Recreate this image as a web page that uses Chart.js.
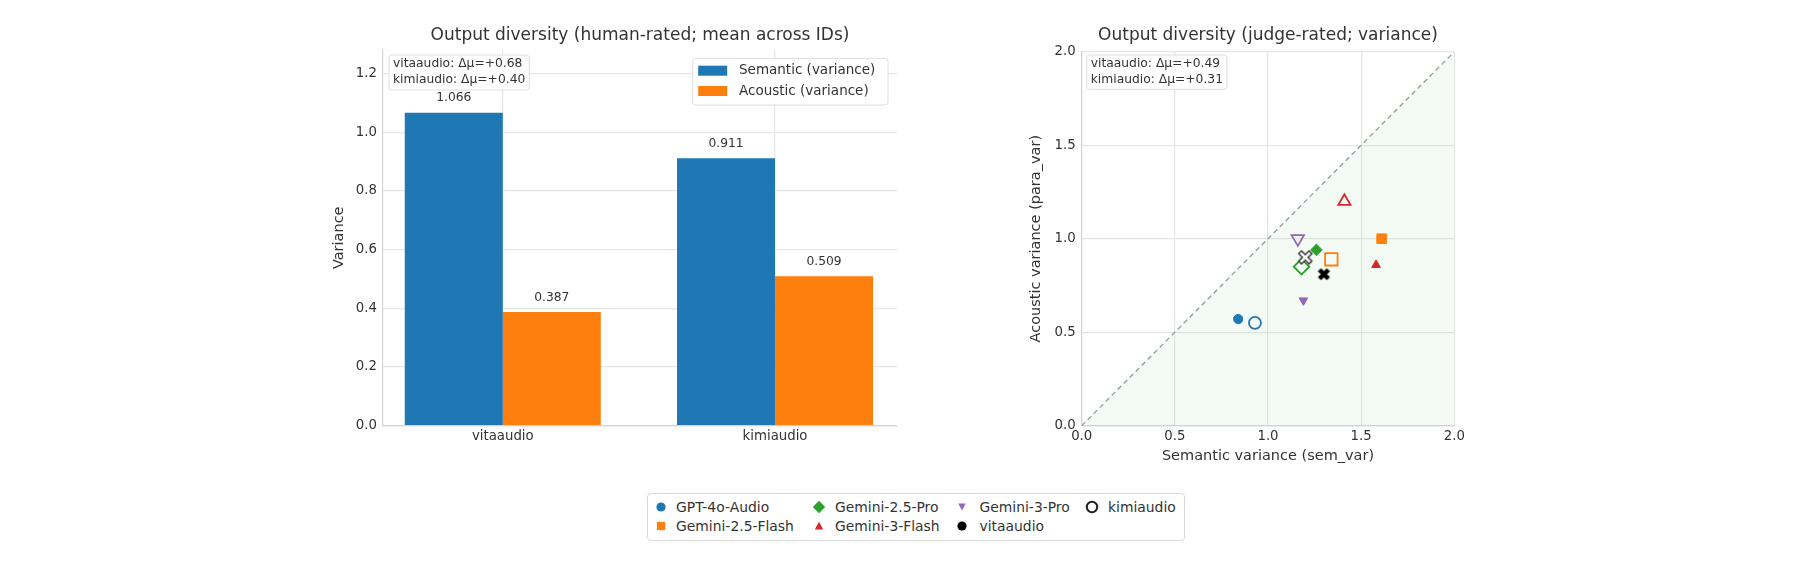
<!DOCTYPE html>
<html>
<head>
<meta charset="utf-8">
<script src="https://cdn.jsdelivr.net/npm/chart.js@4.4.1/dist/chart.umd.min.js"></script>
<style>
html,body{margin:0;padding:0;background:#fff;width:1800px;height:570px;overflow:hidden;font-family:"DejaVu Sans",sans-serif;}
canvas{position:absolute;top:0;}
#c1{left:280px;}
#c2{left:940px;}
#leg{position:absolute;left:647px;top:493px;width:538px;height:48px;border:1px solid #d9d9d9;border-radius:4px;box-sizing:border-box;background:#fff;}
.lt{position:absolute;font-size:13.9px;color:#333;line-height:16px;white-space:nowrap;font-family:"DejaVu Sans",sans-serif;}
.lm{position:absolute;width:16px;height:16px;}
</style>
</head>
<body>
<canvas id="c1" width="640" height="470"></canvas>
<canvas id="c2" width="540" height="470"></canvas>
<div id="leg"></div>
<script>
// ---------- data: left bar chart ----------
const barCategories = ['vitaaudio', 'kimiaudio'];
const semanticVar = [1.066, 0.911];
const acousticVar = [0.387, 0.509];
const barSeriesLabels = ['Semantic (variance)', 'Acoustic (variance)'];
const barYTicks = [0.0, 0.2, 0.4, 0.6, 0.8, 1.0, 1.2];
const barNotes = ['vitaaudio: Δμ=+0.68', 'kimiaudio: Δμ=+0.40'];

// ---------- data: right scatter chart ----------
const models = ['GPT-4o-Audio', 'Gemini-2.5-Flash', 'Gemini-2.5-Pro', 'Gemini-3-Flash', 'Gemini-3-Pro'];
const vitaSem  = [0.84, 1.61, 1.26, 1.58, 1.19];
const vitaPara = [0.57, 1.00, 0.94, 0.86, 0.67];
const kimiSem  = [0.93, 1.34, 1.18, 1.41, 1.16];
const kimiPara = [0.55, 0.89, 0.85, 1.20, 1.00];
const systems = ['vitaaudio', 'kimiaudio'];
const meanSem  = [1.30, 1.20];
const meanPara = [0.81, 0.90];
const scatterTicks = [0.0, 0.5, 1.0, 1.5, 2.0];
const judgeNotes = ['vitaaudio: Δμ=+0.49', 'kimiaudio: Δμ=+0.31'];

// ---------- styles ----------
const FONT = "'DejaVu Sans', sans-serif";
Chart.defaults.font.family = FONT;
Chart.defaults.color = '#333';
const modelColors = ['#1f77b4', '#ff7f0e', '#2ca02c', '#d62728', '#9467bd'];
const modelShapes = ['circle', 'rect', 'rectRot', 'triangle', 'triangle'];
const modelRot = [0, 0, 0, 0, 180];
const filledR = [4.6, 6.8, 5.8, 5.0, 5.0];
const openR = [6.0, 8.8, 7.8, 7.0, 7.2];
const GRID = '#e6e6e6';
const BORDER = '#d4d4d4';

function roundRect(ctx, x, y, w, h, r) {
  ctx.beginPath();
  ctx.moveTo(x + r, y);
  ctx.lineTo(x + w - r, y);
  ctx.arcTo(x + w, y, x + w, y + r, r);
  ctx.lineTo(x + w, y + h - r);
  ctx.arcTo(x + w, y + h, x + w - r, y + h, r);
  ctx.lineTo(x + r, y + h);
  ctx.arcTo(x, y + h, x, y + h - r, r);
  ctx.lineTo(x, y + r);
  ctx.arcTo(x, y, x + r, y, r);
  ctx.closePath();
}

function noteBox(ctx, lines, left, top, h) {
  ctx.save();
  ctx.font = '12.3px ' + FONT;
  const w = Math.max(...lines.map(l => ctx.measureText(l).width)) + 8;
  roundRect(ctx, left, top, w, h, 3);
  ctx.fillStyle = 'rgba(255,255,255,0.85)';
  ctx.fill();
  ctx.strokeStyle = '#dedede';
  ctx.lineWidth = 1;
  ctx.stroke();
  ctx.fillStyle = '#333';
  ctx.textAlign = 'left';
  ctx.textBaseline = 'middle';
  lines.forEach((l, i) => ctx.fillText(l, left + 4, top + 9 + i * 15.5));
  ctx.restore();
}

const barValueLabels = {
  id: 'barValueLabels',
  afterDatasetsDraw(chart) {
    const ctx = chart.ctx;
    ctx.save();
    ctx.font = '12.3px ' + FONT;
    ctx.fillStyle = '#333';
    ctx.textAlign = 'center';
    ctx.textBaseline = 'middle';
    chart.data.datasets.forEach((ds, i) => {
      chart.getDatasetMeta(i).data.forEach((el, j) => {
        ctx.fillText(ds.data[j].y.toFixed(3), el.x, el.y - 14.5);
      });
    });
    ctx.restore();
  }
};

const leftExtras = {
  id: 'leftExtras',
  afterDraw(chart) {
    const ctx = chart.ctx;
    const a = chart.chartArea;
    noteBox(ctx, barNotes, a.left + 6, 55, 35);
    // legend
    const bw = 195.3, bh = 46.7;
    const bx = a.right - 9 - bw, by = 58.3;
    ctx.save();
    roundRect(ctx, bx, by, bw, bh, 3);
    ctx.fillStyle = 'rgba(255,255,255,0.85)';
    ctx.fill();
    ctx.strokeStyle = '#dedede';
    ctx.lineWidth = 1;
    ctx.stroke();
    ctx.font = '13.5px ' + FONT;
    ctx.textAlign = 'left';
    ctx.textBaseline = 'middle';
    chart.data.datasets.forEach((ds, i) => {
      const cy = by + 12.4 + i * 20.3;
      ctx.fillStyle = ds.backgroundColor;
      ctx.fillRect(bx + 5.5, cy - 5, 29, 10);
      ctx.fillStyle = '#333';
      ctx.fillText(ds.label, bx + 46.3, cy);
    });
    ctx.restore();
  }
};

const rightExtras = {
  id: 'rightExtras',
  afterDraw(chart) {
    noteBox(chart.ctx, judgeNotes, chart.chartArea.left + 5, 55, 34.3);
  }
};

// ---------- left chart ----------
new Chart(document.getElementById('c1'), {
  type: 'bar',
  data: {
    datasets: [
      { label: barSeriesLabels[0], data: barCategories.map((c, i) => ({ x: i, y: semanticVar[i] })), backgroundColor: '#1f77b4', borderWidth: 0 },
      { label: barSeriesLabels[1], data: barCategories.map((c, i) => ({ x: i, y: acousticVar[i] })), backgroundColor: '#ff7f0e', borderWidth: 0 }
    ]
  },
  options: {
    responsive: false,
    animation: false,
    devicePixelRatio: 1,
    layout: { padding: { left: 0, right: 23, top: 0, bottom: 0 } },
    datasets: { bar: { categoryPercentage: 0.72, barPercentage: 1.0 } },
    plugins: {
      legend: { display: false },
      tooltip: { enabled: false },
      title: {
        display: true, fullSize: false,
        text: 'Output diversity (human-rated; mean across IDs)',
        font: { size: 17, weight: 'normal', family: FONT }, color: '#333',
        padding: { top: 25.8, bottom: 3.8 }
      }
    },
    scales: {
      x: {
        type: 'linear', min: -0.44, max: 1.448, offset: false,
        grid: { offset: false, color: GRID, lineWidth: 1.2, drawTicks: false },
        border: { color: BORDER, width: 1.2 },
        ticks: { padding: 3, font: { size: 13.3 }, color: '#333', callback: v => barCategories[v] ?? '' },
        afterBuildTicks: s => { s.ticks = barCategories.map((c, i) => ({ value: i })); },
        afterFit: s => { s.height = 44.4; }
      },
      y: {
        min: 0, max: 1.28,
        grid: { color: GRID, lineWidth: 1.2, drawTicks: false },
        border: { color: BORDER, width: 1.2 },
        ticks: { padding: 6, font: { size: 13.3 }, color: '#333', callback: v => v.toFixed(1) },
        afterBuildTicks: s => { s.ticks = barYTicks.map(v => ({ value: v })); },
        title: { display: true, text: 'Variance', font: { size: 14.5 }, color: '#333', padding: { top: 50.3, bottom: 0 } },
        afterFit: s => { s.width = 103; }
      }
    }
  },
  plugins: [barValueLabels, leftExtras]
});

// ---------- X markers ----------
function makeX(half, arm, fill, stroke, lw) {
  const size = Math.ceil((half + lw) * 2) + 2;
  const c = document.createElement('canvas');
  c.width = size; c.height = size;
  const ctx = c.getContext('2d');
  ctx.translate(size / 2, size / 2);
  ctx.rotate(Math.PI / 4);
  const h = half * Math.SQRT2 - arm, a = arm;
  const pts = [[a,h],[a,a],[h,a],[h,-a],[a,-a],[a,-h],[-a,-h],[-a,-a],[-h,-a],[-h,a],[-a,a],[-a,h]];
  ctx.beginPath();
  pts.forEach((p, i) => i ? ctx.lineTo(p[0], p[1]) : ctx.moveTo(p[0], p[1]));
  ctx.closePath();
  ctx.fillStyle = fill; ctx.fill();
  if (stroke) { ctx.strokeStyle = stroke; ctx.lineWidth = lw; ctx.stroke(); }
  return c;
}
const xFilled = makeX(5.6, 1.9, '#000', '#000', 0.8);
const xOpen = makeX(6.6, 2.0, '#fff', '#333', 1.4);

// ---------- right chart ----------
const scatterSets = [];
scatterSets.push({ label: systems[0] + ' mean', data: [{ x: meanSem[0], y: meanPara[0] }], pointStyle: xFilled, pointRadius: 6 });
scatterSets.push({ label: systems[1] + ' mean', data: [{ x: meanSem[1], y: meanPara[1] }], pointStyle: xOpen, pointRadius: 7 });
models.forEach((m, i) => {
  scatterSets.push({
    label: m + ' / vitaaudio', data: [{ x: vitaSem[i], y: vitaPara[i] }],
    pointStyle: modelShapes[i], rotation: modelRot[i], pointRadius: filledR[i],
    backgroundColor: modelColors[i], borderColor: modelColors[i], borderWidth: 1
  });
});
models.forEach((m, i) => {
  scatterSets.push({
    label: m + ' / kimiaudio', data: [{ x: kimiSem[i], y: kimiPara[i] }],
    pointStyle: modelShapes[i], rotation: modelRot[i], pointRadius: openR[i],
    backgroundColor: 'rgba(0,0,0,0)', borderColor: modelColors[i], borderWidth: 1.8
  });
});
scatterSets.push({
  type: 'line', label: 'y = x',
  data: [{ x: scatterTicks[0], y: scatterTicks[0] }, { x: scatterTicks[scatterTicks.length - 1], y: scatterTicks[scatterTicks.length - 1] }],
  borderColor: '#999', borderWidth: 1.3, borderDash: [5, 3.5], pointRadius: 0,
  fill: 'origin', backgroundColor: 'rgba(44,160,44,0.05)', tension: 0
});

new Chart(document.getElementById('c2'), {
  type: 'scatter',
  data: { datasets: scatterSets },
  options: {
    responsive: false,
    animation: false,
    devicePixelRatio: 1,
    layout: { padding: { left: 0, right: 25.7, top: 0, bottom: 0 } },
    plugins: {
      legend: { display: false },
      tooltip: { enabled: false },
      title: {
        display: true, fullSize: false,
        text: 'Output diversity (judge-rated; variance)',
        font: { size: 17, weight: 'normal', family: FONT }, color: '#333',
        padding: { top: 25.8, bottom: 5.5 }
      }
    },
    scales: {
      x: {
        type: 'linear', min: 0, max: 2,
        grid: { color: GRID, lineWidth: 1.2, drawTicks: false },
        border: { color: BORDER, width: 1.2 },
        ticks: { padding: 3, font: { size: 13.3 }, color: '#333', callback: v => v.toFixed(1) },
        afterBuildTicks: s => { s.ticks = scatterTicks.map(v => ({ value: v })); },
        title: { display: true, text: 'Semantic variance (sem_var)', font: { size: 14.5 }, color: '#333', padding: { top: 0, bottom: 4.6 } },
        afterFit: s => { s.height = 44.3; }
      },
      y: {
        type: 'linear', min: 0, max: 2,
        grid: { color: GRID, lineWidth: 1.2, drawTicks: false },
        border: { color: BORDER, width: 1.2 },
        ticks: { padding: 6, font: { size: 13.3 }, color: '#333', callback: v => v.toFixed(1) },
        afterBuildTicks: s => { s.ticks = scatterTicks.map(v => ({ value: v })); },
        title: { display: true, text: 'Acoustic variance (para_var)', font: { size: 14.5 }, color: '#333', padding: { top: 88, bottom: 0 } },
        afterFit: s => { s.width = 141.7; }
      }
    }
  },
  plugins: [rightExtras]
});

// ---------- figure legend (HTML) ----------
const legendLabels = models.concat(systems);
const legendShapes = ['circle', 'square', 'diamond', 'tri', 'trid', 'circle', 'open'];
const legendColors = modelColors.concat(['#000', '#222']);
const colMarkerX = [660.7, 819, 962, 1092];
const colTextX = [676, 835, 979.5, 1108];
const rowY = [506.7, 525.7];
function markerSvg(shape, color) {
  let s = '';
  if (shape === 'circle') s = `<circle cx="8" cy="8" r="4.6" fill="${color}"/>`;
  else if (shape === 'square') s = `<rect x="3.9" y="3.9" width="8.2" height="8.2" fill="${color}"/>`;
  else if (shape === 'diamond') s = `<polygon points="8,1.8 14.2,8 8,14.2 1.8,8" fill="${color}"/>`;
  else if (shape === 'tri') s = `<polygon points="8,3.8 12.2,11.6 3.8,11.6" fill="${color}"/>`;
  else if (shape === 'trid') s = `<polygon points="4.3,4.5 11.7,4.5 8,11.5" fill="${color}"/>`;
  else if (shape === 'open') s = `<circle cx="8" cy="8" r="5.2" fill="none" stroke="${color}" stroke-width="2"/>`;
  return `<svg width="16" height="16" xmlns="http://www.w3.org/2000/svg">${s}</svg>`;
}
const leg = document.getElementById('leg');
let html = '';
legendLabels.forEach((lab, i) => {
  const col = Math.floor(i / 2), row = i % 2;
  const mx = colMarkerX[col] - 647 - 1 - 8, my = rowY[row] - 493 - 1 - 8;
  const tx = colTextX[col] - 647 - 1, ty = rowY[row] - 493 - 1 - 8;
  html += `<div class="lm" style="left:${mx}px;top:${my}px">${markerSvg(legendShapes[i], legendColors[i])}</div>`;
  html += `<div class="lt" style="left:${tx}px;top:${ty}px">${lab}</div>`;
});
leg.innerHTML = html;
</script>
</body>
</html>
